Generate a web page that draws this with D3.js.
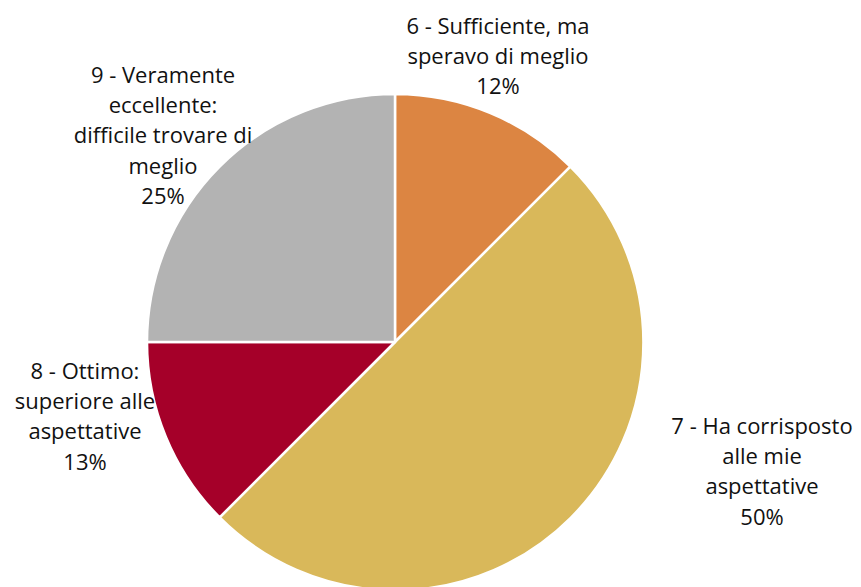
<!DOCTYPE html>
<html>
<head>
<meta charset="utf-8">
<script src="https://cdn.jsdelivr.net/npm/d3@7"></script>
<style>
  html, body { margin: 0; padding: 0; background: #fff; }
  svg { display: block; }
  .lbl { font-family: "Open Sans", sans-serif; font-size: 22px; fill: #111; }
</style>
</head>
<body>
<div id="chart"></div>
<script>
const categories = [
  ["6 - Sufficiente, ma", "speravo di meglio"],
  ["7 - Ha corrisposto", "alle mie", "aspettative"],
  ["8 - Ottimo:", "superiore alle", "aspettative"],
  ["9 - Veramente", "eccellente:", "difficile trovare di", "meglio"]
]
const counts = [1, 4, 1, 2]
const pctLabels = ["12%", "50%", "13%", "25%"]
const colors = ["#dc8542", "#d9b85a", "#a50029", "#b3b3b3"]

const width = 861, height = 587
const cx = 395, cy = 342, radius = 248
const lineH = 30.2
// label block centre x and first baseline, per slice
const labelAt = [[498, 34], [762, 434], [85, 379], [163, 83]]

const svg = d3.select("#chart").append("svg").attr("width", width).attr("height", height)
const g = svg.append("g").attr("transform", `translate(${cx},${cy})`)

const pie = d3.pie().sort(null).value(d => d)
const arc = d3.arc().innerRadius(0).outerRadius(radius)

g.selectAll("path").data(pie(counts)).join("path")
  .attr("d", arc)
  .attr("fill", (d, i) => colors[i])
  .attr("stroke", "#fff")
  .attr("stroke-width", 2.5)
  .attr("stroke-linejoin", "round")

categories.forEach((lines, i) => {
  const all = lines.concat([pctLabels[i]])
  const t = svg.append("text").attr("class", "lbl").attr("text-anchor", "middle")
  all.forEach((s, j) => {
    t.append("tspan").attr("x", labelAt[i][0]).attr("y", labelAt[i][1] + j * lineH).text(s)
  })
})
</script>
</body>
</html>
